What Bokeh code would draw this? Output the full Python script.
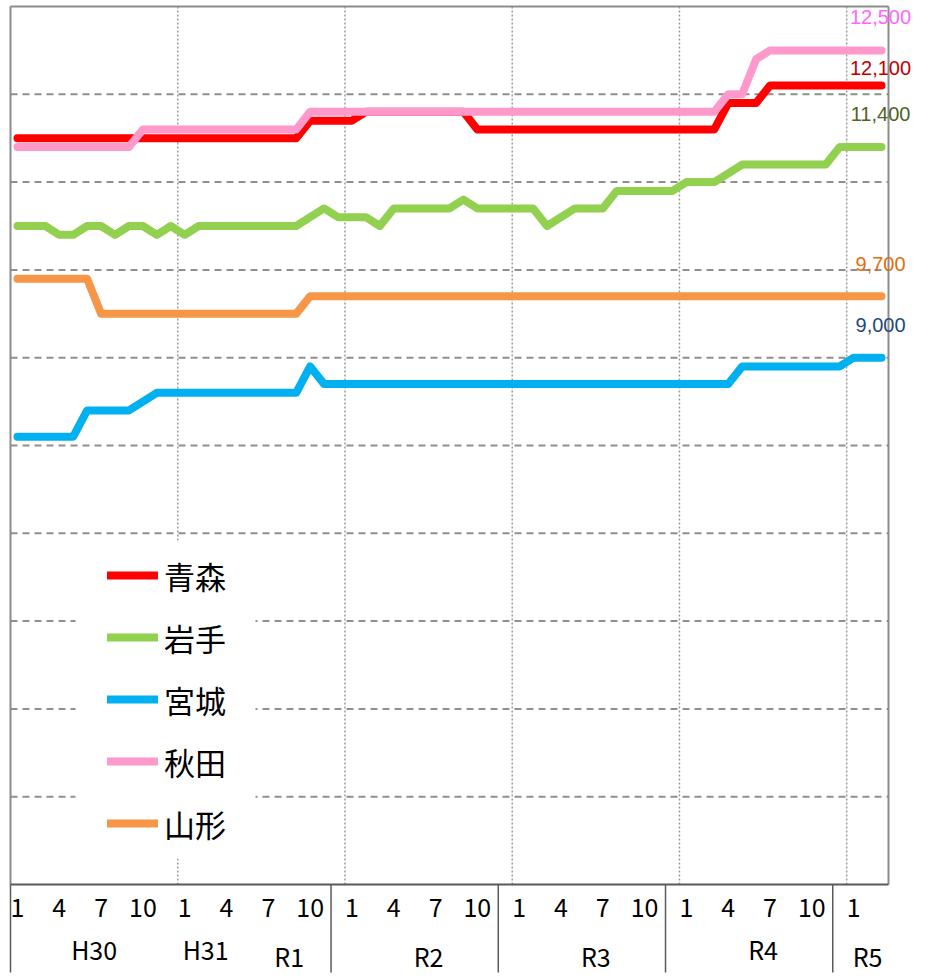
from bokeh.plotting import figure
from bokeh.models import Range1d, Legend, LegendItem, Label
from bokeh.core.properties import value
from bokeh.embed import file_html
from bokeh.resources import INLINE

# ---------------- data (monthly, Jan 2018 .. Mar 2023) ----------------
series_names = ["青森", "岩手", "宮城", "秋田", "山形"]

aomori = [
    11500, 11500, 11500, 11500, 11500, 11500, 11500, 11500, 11500, 11500, 11500, 11500,
    11500, 11500, 11500, 11500, 11500, 11500, 11500, 11500, 11500, 11700, 11700, 11700,
    11700, 11800, 11800, 11800, 11800, 11800, 11800, 11800, 11800, 11600, 11600, 11600,
    11600, 11600, 11600, 11600, 11600, 11600, 11600, 11600, 11600, 11600, 11600, 11600,
    11600, 11600, 11600, 11900, 11900, 11900, 12100, 12100, 12100, 12100, 12100, 12100,
    12100, 12100, 12100,
]
iwate = [
    10500, 10500, 10500, 10400, 10400, 10500, 10500, 10400, 10500, 10500, 10400, 10500,
    10400, 10500, 10500, 10500, 10500, 10500, 10500, 10500, 10500, 10600, 10700, 10600,
    10600, 10600, 10500, 10700, 10700, 10700, 10700, 10700, 10800, 10700, 10700, 10700,
    10700, 10700, 10500, 10600, 10700, 10700, 10700, 10900, 10900, 10900, 10900, 10900,
    11000, 11000, 11000, 11100, 11200, 11200, 11200, 11200, 11200, 11200, 11200, 11400,
    11400, 11400, 11400,
]
miyagi = [
    8100, 8100, 8100, 8100, 8100, 8400, 8400, 8400, 8400, 8500, 8600, 8600,
    8600, 8600, 8600, 8600, 8600, 8600, 8600, 8600, 8600, 8900, 8700, 8700,
    8700, 8700, 8700, 8700, 8700, 8700, 8700, 8700, 8700, 8700, 8700, 8700,
    8700, 8700, 8700, 8700, 8700, 8700, 8700, 8700, 8700, 8700, 8700, 8700,
    8700, 8700, 8700, 8700, 8900, 8900, 8900, 8900, 8900, 8900, 8900, 8900,
    9000, 9000, 9000,
]
akita = [
    11400, 11400, 11400, 11400, 11400, 11400, 11400, 11400, 11400, 11600, 11600, 11600,
    11600, 11600, 11600, 11600, 11600, 11600, 11600, 11600, 11600, 11800, 11800, 11800,
    11800, 11800, 11800, 11800, 11800, 11800, 11800, 11800, 11800, 11800, 11800, 11800,
    11800, 11800, 11800, 11800, 11800, 11800, 11800, 11800, 11800, 11800, 11800, 11800,
    11800, 11800, 11800, 12000, 12000, 12400, 12500, 12500, 12500, 12500, 12500, 12500,
    12500, 12500, 12500,
]
yamagata = [
    9900, 9900, 9900, 9900, 9900, 9900, 9500, 9500, 9500, 9500, 9500, 9500,
    9500, 9500, 9500, 9500, 9500, 9500, 9500, 9500, 9500, 9700, 9700, 9700,
    9700, 9700, 9700, 9700, 9700, 9700, 9700, 9700, 9700, 9700, 9700, 9700,
    9700, 9700, 9700, 9700, 9700, 9700, 9700, 9700, 9700, 9700, 9700, 9700,
    9700, 9700, 9700, 9700, 9700, 9700, 9700, 9700, 9700, 9700, 9700, 9700,
    9700, 9700, 9700,
]

# category axis labels
month_tick_index = [0, 3, 6, 9, 12, 15, 18, 21, 24, 27, 30, 33, 36, 39, 42, 45, 48, 51, 54, 57, 60]
month_tick_labels = ["1", "4", "7", "10", "1", "4", "7", "10", "1", "4", "7", "10",
                     "1", "4", "7", "10", "1", "4", "7", "10", "1"]
era_labels = ["H30", "H31", "R1", "R2", "R3", "R4", "R5"]
era_first = [0, 12, 16, 24, 36, 48, 60]
era_last = [11, 15, 23, 35, 47, 59, 62]

# ---------------- styles ----------------
line_colors = ["#FF0000", "#92D050", "#00B0F0", "#FF99CC", "#F79646"]
label_colors = ["#C00000", "#4F6228", "#1F497D", "#FF66FF", "#E46C0A"]
label_dy = [18, 33, 33, 33, 32]          # px above the last point
era_low = [False, False, True, True, True, False, True]
separator_pos = [22.5, 34.5, 46.5, 58.5]  # separators in the category band

# ---------------- layout (page pixels) ----------------
FIG_W, FIG_H = 930, 978
FR_L, FR_R, FR_T, FR_B = 4, 916, 0, 976      # frame edges on the page
PX_X0, PX_X1 = 10, 888                        # plot area left / right
PX_YTOP, PX_YAXIS = 6, 884                    # plot area top / axis line
YMIN, YMAX = 3000, 13000
series = [aomori, iwate, miyagi, akita, yamagata]
n = len(aomori)
ppm = (PX_X1 - PX_X0) / n
ppu = (PX_YAXIS - PX_YTOP) / (YMAX - YMIN)


def xdata(px):
    return -0.5 + (px - PX_X0) / ppm


def ydata(py):
    return YMAX - (py - PX_YTOP) / ppu


p = figure(width=FIG_W, height=FIG_H,
           x_range=Range1d(xdata(FR_L), xdata(FR_R)), y_range=Range1d(ydata(FR_B), ydata(FR_T)),
           output_backend="svg", toolbar_location=None, x_axis_location=None, y_axis_location=None,
           min_border_left=FR_L, min_border_right=FIG_W - FR_R,
           min_border_top=FR_T, min_border_bottom=FIG_H - FR_B, title=None,
           outline_line_color=None, background_fill_color="white", border_fill_color="white")
for g in p.grid:
    g.visible = False

x_lo, x_hi = -0.5, n - 0.5

# horizontal dashed gridlines
hvals = list(range(YMIN + 1000, YMAX, 1000))
p.segment(x0=[x_lo] * len(hvals), x1=[x_hi] * len(hvals), y0=hvals, y1=hvals,
          line_color="#8f8f8f", line_width=2, line_dash="7 5")
# vertical dotted lines at year boundaries
vb = [i - 0.5 for i in range(12, n, 12)]
p.segment(x0=vb, x1=vb, y0=[YMIN] * len(vb), y1=[YMAX] * len(vb),
          line_color="#9a9a9a", line_width=1.5, line_dash="2 2")

# white legend background
p.quad(left=[xdata(75)], right=[xdata(255)], top=[ydata(542)], bottom=[ydata(858)],
       fill_color="white", line_color=None)

# data lines
idx = list(range(n))
renderers = []
for vals, c in zip(series, line_colors):
    r = p.line(x=idx, y=vals, line_color=c, line_width=8, line_cap="round", line_join="round")
    renderers.append(r)

# plot-area border (top, left, right)
p.segment(x0=[x_lo, x_lo, x_hi], x1=[x_hi, x_lo, x_hi],
          y0=[YMAX, YMIN, YMIN], y1=[YMAX, YMAX, YMAX],
          line_color="#8c8c8c", line_width=2)
# category band lines
band_bottom = ydata(972)
p.segment(x0=[x_lo] + separator_pos, x1=[x_lo] + separator_pos,
          y0=[band_bottom] * (1 + len(separator_pos)), y1=[YMIN] * (1 + len(separator_pos)),
          line_color="#5a5a5a", line_width=1.5)
p.segment(x0=[x_lo], x1=[x_hi], y0=[YMIN], y1=[YMIN], line_color="#595959", line_width=2)

# category labels
p.text(x=month_tick_index, y=[ydata(907)] * len(month_tick_index), text=month_tick_labels,
       text_align="center", text_baseline="middle", text_font=value("Noto Sans CJK JP"),
       text_font_size="25px", text_color="#000000")
era_x = [(a + b) / 2 for a, b in zip(era_first, era_last)]
era_y = [ydata(955) if low else ydata(948) for low in era_low]
p.text(x=era_x, y=era_y, text=era_labels, text_align="center", text_baseline="middle",
       text_font=value("Noto Sans CJK JP"), text_font_size="25px", text_color="#000000")

# end-value labels
for vals, c, dy in zip(series, label_colors, label_dy):
    p.add_layout(Label(x=n - 1, y=vals[-1], x_offset=-1, y_offset=dy, text=f"{vals[-1]:,}",
                       text_align="center", text_baseline="middle", text_font="Liberation Sans",
                       text_font_size="20px", text_color=c))

# legend
item_h, item_gap = 46, 16
first_center = 575
legend_bottom = first_center - item_h / 2 + 5 * item_h + 4 * item_gap
legend = Legend(items=[LegendItem(label=nm, renderers=[r]) for nm, r in zip(series_names, renderers)],
                location=(107 - FR_L, int(round(FR_B - legend_bottom))),
                padding=0, margin=0, spacing=item_gap, glyph_width=51, glyph_height=item_h,
                label_height=item_h, label_standoff=6, label_text_font="Noto Sans CJK JP",
                label_text_font_size="31px", label_text_color="#000000",
                background_fill_alpha=0, border_line_alpha=0)
p.add_layout(legend)

open("out.html", "w").write(file_html(p, INLINE))
